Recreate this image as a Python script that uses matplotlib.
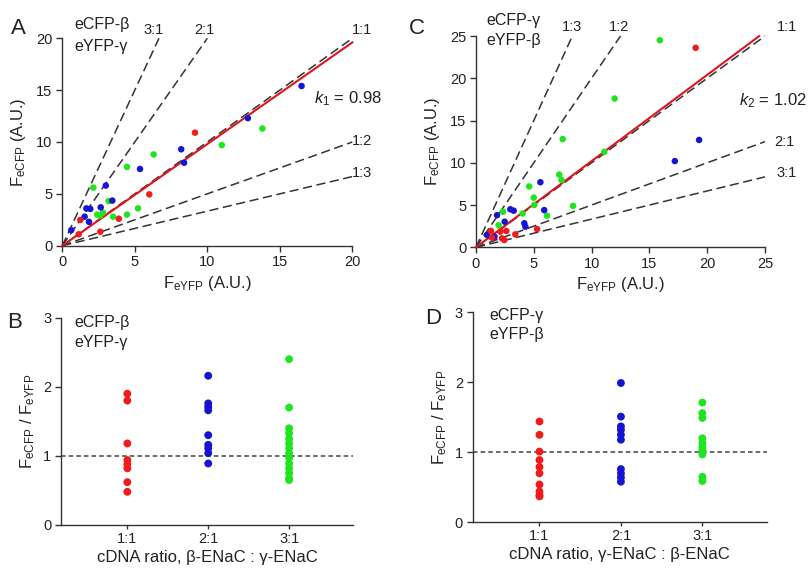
import matplotlib
matplotlib.use("Agg")
import matplotlib.pyplot as plt
import numpy as np

plt.rcParams['font.family'] = ['Liberation Sans', 'DejaVu Sans']
plt.rcParams['mathtext.fontset'] = 'custom'
plt.rcParams['mathtext.rm'] = 'Liberation Sans'
plt.rcParams['mathtext.it'] = 'Liberation Sans:italic'
plt.rcParams['mathtext.default'] = 'regular'

RED = '#f01c1c'
BLUE = '#1414d2'
GREEN = '#1ee61e'
TXT = '#222222'

# ---------------- Panel A data (eCFP-beta / eYFP-gamma) ----------------
a_red_x = [9.15, 6.0, 3.9, 2.62, 1.24, 1.13]
a_red_y = [10.9, 4.95, 2.6, 1.35, 2.48, 1.1]
a_blue_x = [0.62, 1.84, 1.54, 1.66, 1.93, 2.65, 3.45, 3.0, 5.36, 8.2, 8.4, 12.8, 16.5]
a_blue_y = [1.5, 2.3, 2.8, 3.6, 3.55, 3.7, 4.35, 5.8, 7.4, 9.3, 8.0, 12.3, 15.4]
a_green_x = [2.14, 4.46, 6.3, 11.0, 13.8, 2.41, 2.8, 2.6, 3.5, 4.46, 5.22, 3.2]
a_green_y = [5.6, 7.6, 8.8, 9.7, 11.3, 3.0, 3.2, 2.9, 2.8, 3.0, 3.6, 4.3]
k1 = 0.98

# ---------------- Panel C data (eCFP-gamma / eYFP-beta) ----------------
c_red_x = [19.0, 1.3, 2.1, 2.62, 2.25, 2.45, 3.4, 5.28, 1.38]
c_red_y = [23.6, 1.93, 1.85, 1.93, 1.06, 0.86, 1.53, 2.16, 1.14]
c_blue_x = [19.3, 17.2, 5.57, 2.97, 3.26, 5.9, 1.82, 2.48, 4.18, 4.27, 0.95, 1.6]
c_blue_y = [12.7, 10.2, 7.7, 4.5, 4.33, 4.4, 3.8, 3.03, 2.84, 2.44, 1.46, 1.26]
c_green_x = [15.9, 12.0, 7.5, 7.2, 7.4, 4.6, 5.0, 5.04, 8.4, 2.34, 6.14, 4.04, 1.96, 11.1]
c_green_y = [24.5, 17.6, 12.8, 8.6, 7.96, 7.2, 5.87, 5.0, 4.9, 4.2, 3.74, 4.0, 2.6, 11.3]
k2 = 1.02

# ---------------- Panel B data (ratios) ----------------
ratio_categories = ['1:1', '2:1', '3:1']
b_red = [1.90, 1.80, 1.18, 0.94, 0.88, 0.82, 0.62, 0.48]
b_blue = [2.16, 1.76, 1.71, 1.66, 1.30, 1.16, 1.11, 1.04, 0.89]
b_green = [2.40, 1.70, 1.40, 1.33, 1.25, 1.18, 1.11, 1.04, 0.97, 0.89, 0.82, 0.75, 0.68, 0.65]

# ---------------- Panel D data ----------------
d_red = [1.44, 1.25, 1.01, 0.89, 0.79, 0.70, 0.54, 0.44, 0.39, 0.37]
d_blue = [1.99, 1.51, 1.37, 1.32, 1.25, 1.18, 0.76, 0.70, 0.64, 0.58]
d_green = [1.71, 1.56, 1.49, 1.20, 1.13, 1.08, 1.03, 0.97, 0.65, 0.59]

W, H = 811, 572
fig = plt.figure(figsize=(W / 100, H / 100), dpi=100)


def add_ax(l, r, b, t):
    return fig.add_axes([l / W, 1 - b / H, (r - l) / W, (b - t) / H])


def style(ax):
    for s in ['top', 'right']:
        ax.spines[s].set_visible(False)
    for s in ['left', 'bottom']:
        ax.spines[s].set_color('#333333')
        ax.spines[s].set_linewidth(1.0)
    ax.tick_params(direction='out', length=4, width=1.0, color='#333333',
                   labelsize=10.5, labelcolor=TXT, pad=3)


ylab_scatter = r'F$_{\mathregular{eCFP}}$ (A.U.)'
xlab_scatter = r'F$_{\mathregular{eYFP}}$ (A.U.)'
ylab_ratio = r'F$_{\mathregular{eCFP}}$ / F$_{\mathregular{eYFP}}$'

dash = (6, 3)
ms_sc = 22
ms_rt = 32


def scatter_panel(ax, lim, ticks, slopes, slope_labels, label_pos, k, klabel, kpos,
                  red, blue, green, redxmax):
    style(ax)
    ax.set_xlim(0, lim)
    ax.set_ylim(0, lim)
    ax.set_xticks(ticks)
    ax.set_yticks(ticks)
    for s in slopes:
        xe = min(lim, lim / s)
        ax.plot([0, xe], [0, s * xe], color='#333333', lw=1.1, dashes=dash,
                clip_on=False, zorder=2)
    ax.plot([0, redxmax], [0, k * redxmax], color='#e0141e', lw=1.5, clip_on=False, zorder=3)
    for lab, (x, y) in zip(slope_labels, label_pos):
        ax.text(x, y, lab, ha='center', va='center', fontsize=10.5, color=TXT, clip_on=False)
    ax.text(kpos[0], kpos[1], klabel, ha='center', va='center', fontsize=12, color=TXT)
    for (xs, ys), c in zip([green, blue, red], [GREEN, BLUE, RED]):
        ax.scatter(xs, ys, s=ms_sc, color=c, edgecolors='none', zorder=4, clip_on=False)
    ax.set_xlabel(xlab_scatter, fontsize=12, color=TXT, labelpad=3)
    ax.set_ylabel(ylab_scatter, fontsize=12, color=TXT, labelpad=6)


# Panel A
axA = add_ax(62.3, 352.3, 245.7, 38.3)
scatter_panel(axA, 20, [0, 5, 10, 15, 20], [3, 2, 1, 0.5, 1 / 3],
              ['3:1', '2:1', '1:1', '1:2', '1:3'],
              [(6.3, 20.8), (9.8, 20.8), (20.7, 20.8), (20.7, 10.1), (20.7, 7.05)],
              k1, r'$\mathit{k}_{1}$ = 0.98', (19.7, 14.2),
              (a_red_x, a_red_y), (a_blue_x, a_blue_y), (a_green_x, a_green_y), 20)

# Panel C
axC = add_ax(476, 765, 247.3, 36)
scatter_panel(axC, 25, [0, 5, 10, 15, 20, 25], [3, 2, 1, 0.5, 1 / 3],
              ['1:3', '1:2', '1:1', '2:1', '3:1'],
              [(8.3, 26.1), (12.4, 26.1), (26.9, 26.1), (26.7, 12.5), (26.9, 8.75)],
              k2, r'$\mathit{k}_{2}$ = 1.02', (25.7, 17.4),
              (c_red_x, c_red_y), (c_blue_x, c_blue_y), (c_green_x, c_green_y), 24.5)


def ratio_panel(ax, red, blue, green, xlabel):
    style(ax)
    ax.set_xlim(0.18, 3.79)
    ax.set_ylim(0, 3)
    ax.set_yticks([0, 1, 2, 3])
    ax.set_xticks([1, 2, 3])
    ax.set_xticklabels(ratio_categories)
    ax.tick_params(axis='x', length=3, pad=2)
    ax.axhline(1.0, color='#444444', lw=1.1, dashes=(3, 2), zorder=1)
    for i, (vals, c) in enumerate(zip([red, blue, green], [RED, BLUE, GREEN])):
        ax.scatter([i + 1] * len(vals), vals, s=ms_rt, color=c, edgecolors='none', zorder=3)
    ax.set_xlabel(xlabel, fontsize=12, color=TXT, labelpad=3)
    ax.set_ylabel(ylab_ratio, fontsize=12, color=TXT, labelpad=4)


axB = add_ax(61, 353, 525, 317.7)
ratio_panel(axB, b_red, b_blue, b_green, 'cDNA ratio, β-ENaC : γ-ENaC')

axD = add_ax(472.7, 766.7, 522.3, 312.3)
ratio_panel(axD, d_red, d_blue, d_green, 'cDNA ratio, γ-ENaC : β-ENaC')

# Panel letters and construct labels (figure pixel coordinates)
def ftext(x, y, s, **kw):
    fig.text(x / W, 1 - y / H, s, color=TXT, **kw)

ftext(18, 28, 'A', fontsize=16, ha='center', va='center')
ftext(417, 28, 'C', fontsize=16, ha='center', va='center')
ftext(15, 322, 'B', fontsize=16, ha='center', va='center')
ftext(433, 318, 'D', fontsize=16, ha='center', va='center')

ftext(74, 25, 'eCFP-β', fontsize=11.5, ha='left', va='center')
ftext(74, 46, 'eYFP-γ', fontsize=11.5, ha='left', va='center')
ftext(486, 21, 'eCFP-γ', fontsize=11.5, ha='left', va='center')
ftext(486, 40, 'eYFP-β', fontsize=11.5, ha='left', va='center')
ftext(74, 322, 'eCFP-β', fontsize=11.5, ha='left', va='center')
ftext(74, 342, 'eYFP-γ', fontsize=11.5, ha='left', va='center')
ftext(489, 316, 'eCFP-γ', fontsize=11.5, ha='left', va='center')
ftext(489, 335, 'eYFP-β', fontsize=11.5, ha='left', va='center')

fig.savefig('out.png', dpi=100)
